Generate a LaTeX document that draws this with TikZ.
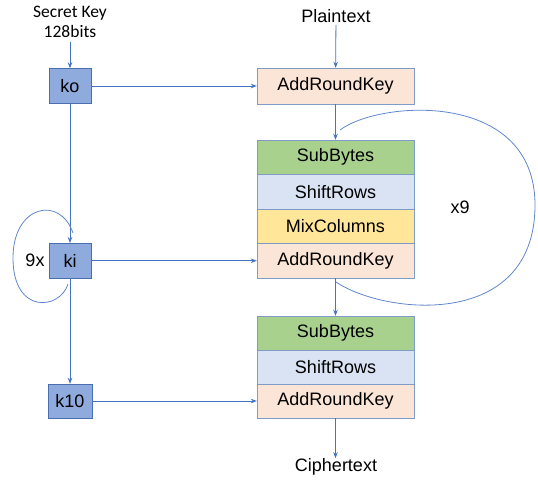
\documentclass[tikz,border=0pt]{standalone}
\usepackage{fontspec}
\setmainfont{Liberation Sans}
\newfontfamily\calibri{Carlito}
\usetikzlibrary{arrows.meta}

\definecolor{lineblue}{HTML}{4472C4}
\definecolor{keyblue}{HTML}{8FAADC}
\definecolor{keyedge}{HTML}{4A6FB0}
\definecolor{celledge}{HTML}{7F9BC8}
\definecolor{subgreen}{HTML}{A9D18E}
\definecolor{shiftblue}{HTML}{DAE3F3}
\definecolor{mixyellow}{HTML}{FFE699}
\definecolor{addpeach}{HTML}{FBE5D6}

\begin{document}
\begin{tikzpicture}[x=1pt,y=-1pt,
    keybox/.style={draw=keyedge,fill=keyblue,minimum width=42pt,minimum height=35pt,inner sep=0pt,font=\fontsize{18}{20}\selectfont},
    cell/.style={draw=celledge,minimum width=157pt,minimum height=34.5pt,inner sep=0pt,font=\fontsize{18}{20}\selectfont},
    label/.style={inner sep=2pt,font=\fontsize{18}{20}\selectfont},
    arr/.style={-{Stealth[length=6pt,width=4.5pt]},draw=lineblue,line width=0.8pt},
    ring/.style={draw=lineblue!85,line width=0.8pt}]
    \useasboundingbox (0,0) rectangle (538,480);

    % key schedule
    \node[align=center,inner sep=4pt,font=\calibri\fontsize{17.5}{20.5}\selectfont] (sk) at (70,22) {Secret Key\\128bits};
    \node[keybox] (k0) at (70,86) {ko};
    \node[keybox] (ki) at (70,260.75) {ki};
    \node[keybox,minimum width=44pt,minimum height=34pt] (k10) at (70,401) {k10};
    \node[label] (nine) at (35,260) {9x};

    % cipher rounds
    \node[label] (pt) at (336,16) {Plaintext};
    \node[cell,fill=addpeach,minimum height=36pt] (ark0) at (335.5,86) {AddRoundKey};

    \node[cell,fill=subgreen] (sb1) at (335.5,157.25) {SubBytes};
    \node[cell,fill=shiftblue] (sr1) at (335.5,191.75) {ShiftRows};
    \node[cell,fill=mixyellow] (mc1) at (335.5,226.25) {MixColumns};
    \node[cell,fill=addpeach] (ark1) at (335.5,260.75) {AddRoundKey};
    \node[label] (x9) at (460,207) {x9};

    \node[cell,fill=subgreen,minimum height=34pt] (sb2) at (335.5,333) {SubBytes};
    \node[cell,fill=shiftblue,minimum height=34pt] (sr2) at (335.5,367) {ShiftRows};
    \node[cell,fill=addpeach,minimum height=34pt] (ark2) at (335.5,401) {AddRoundKey};
    \node[label] (ct) at (336,467) {Ciphertext};

    % arrows
    \draw[arr] (sk) -- (k0);
    \draw[arr] (k0) -- (ki);
    \draw[arr] (ki) -- (k10);
    \draw[arr] (k0) -- (ark0);
    \draw[arr] (ki) -- (ark1);
    \draw[arr] (k10) -- (ark2);
    \draw[arr] (pt) -- (ark0);
    \draw[arr] (ark0) -- (sb1);
    \draw[arr] (ark1) -- (sb2);
    \draw[arr] (ark2.south) -- ++(0,40) coordinate (ctin);

    % loops
    \coordinate (kitop) at (73,233);
    \coordinate (kibot) at (68,284);
    \draw[ring] (kitop) .. controls (60,195) and (13,205) .. (13,258)
                        .. controls (13,315) and (60,310) .. (kibot);
    \coordinate (rtop) at (340,130);
    \coordinate (rbot) at (336,282);
    \draw[ring] (rtop) .. controls (380,100) and (535,90) .. (535,205)
                       .. controls (535,330) and (385,315) .. (rbot);
\end{tikzpicture}
\end{document}
